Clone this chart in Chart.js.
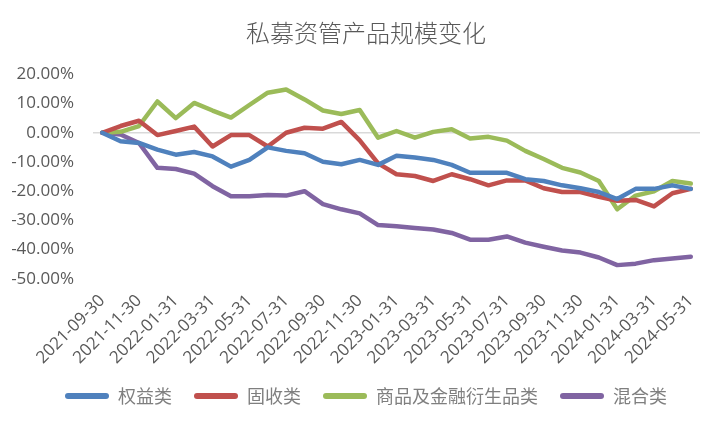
<!DOCTYPE html>
<html>
<head>
<meta charset="utf-8">
<script src="https://cdn.jsdelivr.net/npm/chart.js@4.4.1/dist/chart.umd.min.js"></script>
<style>
  html, body { margin: 0; background: #fff; }
  #wrap { width: 728px; height: 427px; }
</style>
</head>
<body>
<div id="wrap"><canvas id="chart"></canvas></div>
<script>
const months = [
  "2021-09-30","2021-10-31","2021-11-30","2021-12-31",
  "2022-01-31","2022-02-28","2022-03-31","2022-04-30","2022-05-31","2022-06-30",
  "2022-07-31","2022-08-31","2022-09-30","2022-10-31","2022-11-30","2022-12-31",
  "2023-01-31","2023-02-28","2023-03-31","2023-04-30","2023-05-31","2023-06-30",
  "2023-07-31","2023-08-31","2023-09-30","2023-10-31","2023-11-30","2023-12-31",
  "2024-01-31","2024-02-29","2024-03-31","2024-04-30","2024-05-31"
];

// percent change vs 2021-09-30
const equity = [0, -2.9, -3.5, -5.8, -7.5, -6.6, -8.1, -11.6, -9.3, -5.0, -6.2, -7.0, -9.9, -10.8, -9.3, -11.0,
  -7.9, -8.5, -9.3, -11.0, -13.7, -13.7, -13.7, -15.9, -16.5, -18.0, -19.0, -20.3, -22.7, -19.2, -19.2, -18.0, -19.2];
const fixedIncome = [0, 2.3, 4.1, -0.8, 0.6, 2.1, -4.7, -0.8, -0.8, -4.7, 0, 1.7, 1.4, 3.7, -2.6, -10.5,
  -14.2, -14.8, -16.5, -14.2, -15.9, -18.0, -16.3, -16.3, -19.0, -20.3, -20.3, -21.9, -23.3, -23.0, -25.2, -20.7, -19.2];
const commodity = [0, 0.3, 2.3, 10.7, 5.0, 10.2, 7.6, 5.2, 9.5, 13.7, 14.8, 11.4, 7.6, 6.4, 7.8, -1.7,
  0.6, -1.7, 0.3, 1.2, -2.0, -1.4, -2.7, -6.2, -9.0, -12.0, -13.6, -16.5, -26.2, -21.5, -20.0, -16.5, -17.4];
const mixed = [0, -0.6, -3.5, -12.0, -12.4, -14.0, -18.3, -21.7, -21.7, -21.3, -21.5, -20.0, -24.4, -26.2, -27.6, -31.6,
  -32.0, -32.6, -33.1, -34.3, -36.6, -36.6, -35.5, -37.6, -39.0, -40.3, -41.0, -42.7, -45.3, -44.8, -43.6, -43.0, -42.4];

const seriesNames  = ["权益类", "固收类", "商品及金融衍生品类", "混合类"];
const seriesColors = ["#4F81BD", "#C0504D", "#9BBB59", "#8064A2"];
const seriesData   = [equity, fixedIncome, commodity, mixed];

const cjk = '"Noto Sans CJK SC", "Noto Sans", sans-serif';
const num = '"Open Sans", "Noto Sans", sans-serif';

new Chart(document.getElementById("chart"), {
  type: "line",
  data: {
    labels: months,
    datasets: seriesData.map((d, i) => ({
      label: seriesNames[i],
      data: d,
      borderColor: seriesColors[i],
      backgroundColor: seriesColors[i],
      borderWidth: 4.5,
      pointRadius: 0,
      tension: 0,
      borderJoinStyle: "round",
      borderCapStyle: "round"
    }))
  },
  options: {
    responsive: true,
    maintainAspectRatio: false,
    animation: false,
    layout: { padding: { top: 18, right: 8, bottom: 12, left: 12 } },
    plugins: {
      title: {
        display: true,
        text: "私募资管产品规模变化",
        color: "#595959",
        font: { family: cjk, size: 24, weight: "300" },
        padding: { top: 0, bottom: 27.5 }
      },
      legend: {
        position: "bottom",
        labels: {
          color: "#7f7f7f",
          font: { family: cjk, size: 18 },
          boxWidth: 44,
          boxHeight: 6,
          padding: 22,
          useBorderRadius: true,
          borderRadius: 3,
          generateLabels: chart => Chart.defaults.plugins.legend.labels.generateLabels(chart)
            .map(l => ({ ...l, lineWidth: 0 }))
        }
      },
      tooltip: { enabled: false }
    },
    scales: {
      x: {
        offset: true,
        grid: { display: false },
        border: { display: false },
        afterFit: s => { s.paddingLeft = 0; s.paddingRight = 0; s.height -= 7; },
        ticks: {
          autoSkip: false,
          minRotation: 45,
          maxRotation: 45,
          color: "#595959",
          font: { family: num, size: 17 },
          padding: 4,
          callback: (v, i) => i % 2 === 0 ? months[i] : ""
        }
      },
      y: {
        min: -50,
        max: 20,
        border: { display: false },
        afterFit: s => { s.width = 81; },
        grid: {
          drawTicks: false,
          lineWidth: 1.5,
          color: c => c.tick && c.tick.value === 0 ? "#d9d9d9" : "rgba(0,0,0,0)"
        },
        ticks: {
          stepSize: 10,
          color: "#595959",
          font: { family: num, size: 17 },
          padding: 19,
          callback: v => v.toFixed(2) + "%"
        }
      },
      // empty right-hand spacer so the plot ends where the original does
      spacer: {
        position: "right",
        min: 0,
        max: 1,
        border: { display: false },
        grid: { display: false },
        ticks: { display: false },
        afterFit: s => { s.width = 20; }
      }
    }
  }
});
</script>
</body>
</html>
